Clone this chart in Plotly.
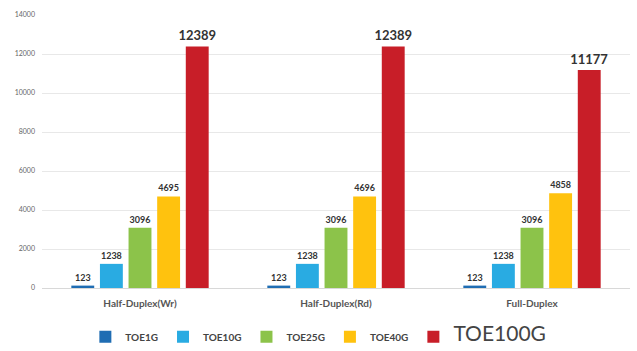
import plotly.graph_objects as go

categories = ["Half-Duplex(Wr)", "Half-Duplex(Rd)", "Full-Duplex"]
series_names = ["TOE1G", "TOE10G", "TOE25G", "TOE40G", "TOE100G"]
toe1g = [123, 123, 123]
toe10g = [1238, 1238, 1238]
toe25g = [3096, 3096, 3096]
toe40g = [4695, 4696, 4858]
toe100g = [12389, 12389, 11177]
y_ticks = [0, 2000, 4000, 6000, 8000, 10000, 12000, 14000]

colors = ["#1F6DB3", "#29ABE2", "#8CC34A", "#FFC20E", "#C81E28"]
values = [toe1g, toe10g, toe25g, toe40g, toe100g]

fig = go.Figure()
for i, (name, vals) in enumerate(zip(series_names, values)):
    big = name == "TOE100G"
    legend_name = ("<span style='font-size:21px;font-weight:normal'>%s</span>" % name) if big else name
    fig.add_trace(go.Bar(
        x=categories, y=vals, name=legend_name,
        marker=dict(color=colors[i], line=dict(width=0)),
        text=[str(v) for v in vals], textposition="outside",
        constraintext="none",
        textfont=dict(size=13 if big else 9, color="#333333",
                      family="Lato, Open Sans, sans-serif",
                      weight="bold"),
        cliponaxis=False,
    ))

fig.update_layout(
    width=637, height=351,
    margin=dict(l=42, r=7, t=15, b=63, autoexpand=False),
    paper_bgcolor="white", plot_bgcolor="white",
    barmode="group", bargap=0.27, bargroupgap=0.2,
    font=dict(family="Lato, Open Sans, sans-serif", color="#444444"),
    showlegend=True,
    legend=dict(orientation="h", x=0.47, xanchor="center", y=-0.125, yanchor="top",
                font=dict(size=10, color="#444444", weight="bold"),
                itemwidth=30, traceorder="normal"),
    xaxis=dict(showgrid=False, showline=False, ticks="", automargin=False,
               ticklabelstandoff=8,
               tickfont=dict(size=10, color="#555555", weight="bold")),
    yaxis=dict(range=[0, 14000], tickvals=y_ticks, tickformat="d", automargin=False,
               showgrid=True, gridcolor="#E8E8E8", gridwidth=1,
               zeroline=True, zerolinecolor="#D8D8D8", zerolinewidth=1,
               showline=False, ticks="", ticklen=0, ticklabelstandoff=6,
               tickfont=dict(size=7, color="#666666")),
)

fig.write_html("out.html")
